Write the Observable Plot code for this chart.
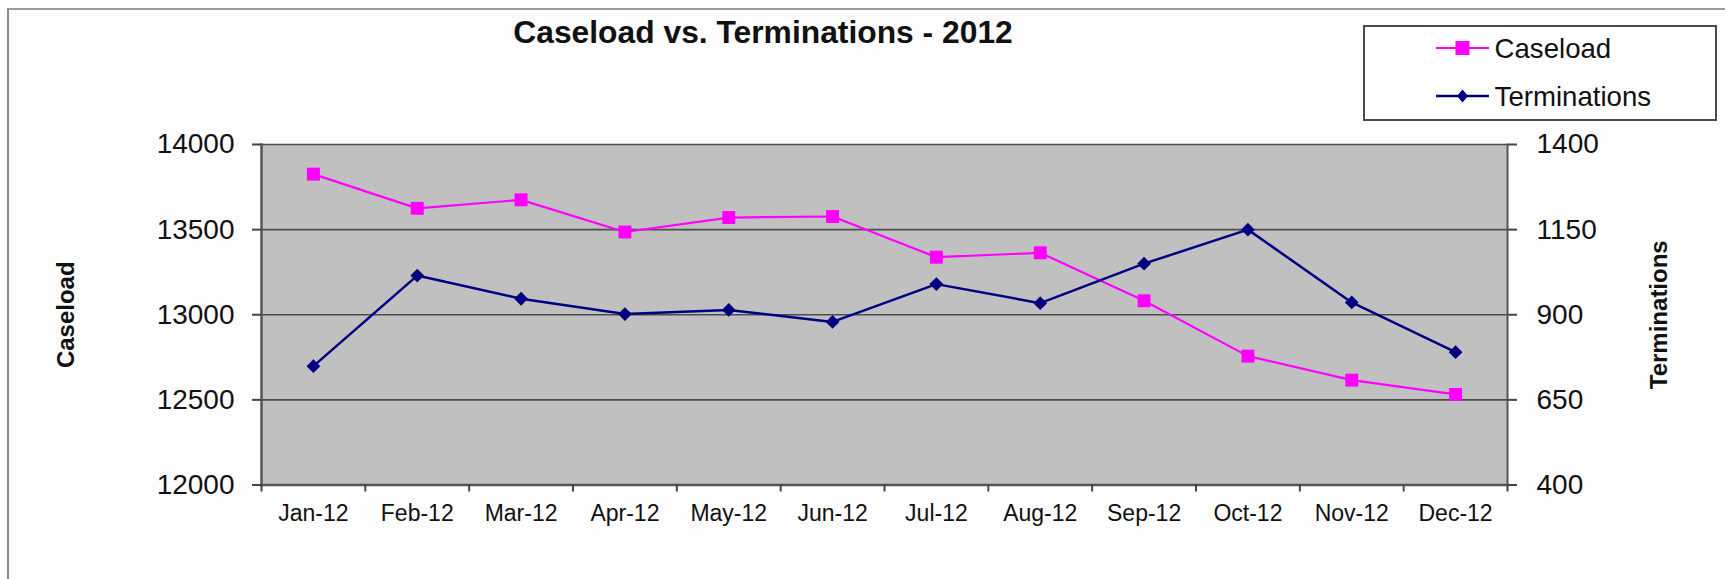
<!DOCTYPE html>
<html>
<head>
<meta charset="utf-8">
<script src="https://cdn.jsdelivr.net/npm/d3@7"></script>
<script src="https://cdn.jsdelivr.net/npm/@observablehq/plot@0.6"></script>
<style>
  html, body { margin: 0; padding: 0; background: #ffffff; }
  #wrap { position: relative; width: 1725px; height: 579px; overflow: hidden; font-family: "Liberation Sans", Arial, sans-serif; }
  #border { position: absolute; left: 7px; top: 8px; width: 1716px; height: 600px; border-left: 2px solid #8a8a8a; border-top: 2px solid #9a9a9a; border-right: 1px solid #cfcfcf; background: #fdfdfd; }
  #chart { position: absolute; left: 0; top: 0; }
  #title { position: absolute; left: 263px; width: 1000px; top: 16.5px; text-align: center; font-weight: bold; font-size: 31.8px; line-height: 31.8px; color: #111; }
  #legend { position: absolute; left: 1363px; top: 25px; width: 354px; height: 96px; box-sizing: border-box; border: 2px solid #4a4a4a; background: #fff; }
  .lg-item { position: absolute; font-size: 27.6px; line-height: 27.6px; color: #111; white-space: nowrap; }
  .lg-sw { position: absolute; }
</style>
</head>
<body>
<div id="wrap">
  <div id="border"></div>
  <div id="chart"></div>
  <div id="title"></div>
  <div id="legend"></div>
</div>
<script>
// ---- data ----
const months = ["Jan-12", "Feb-12", "Mar-12", "Apr-12", "May-12", "Jun-12", "Jul-12", "Aug-12", "Sep-12", "Oct-12", "Nov-12", "Dec-12"];
const caseload = [13826, 13625, 13675, 13486, 13571, 13577, 13338, 13364, 13082, 12757, 12616, 12532];
const terminations = [749, 1015, 947, 902, 914, 879, 990, 934, 1050, 1150, 936, 790];
const caseloadTicks = [12000, 12500, 13000, 13500, 14000];
const terminationTicks = [400, 650, 900, 1150, 1400];
const titleText = "Caseload vs. Terminations - 2012";
const seriesNames = ["Caseload", "Terminations"];
const seriesColors = ["#ff00ff", "#000080"];

// map terminations onto the caseload (left) scale
const cMin = caseloadTicks[0], cMax = caseloadTicks[caseloadTicks.length - 1];
const tMin = terminationTicks[0], tMax = terminationTicks[terminationTicks.length - 1];
const tToY = t => cMin + (t - tMin) * (cMax - cMin) / (tMax - tMin);
const yToT = y => Math.round(tMin + (y - cMin) * (tMax - tMin) / (cMax - cMin));

const rows = months.map((m, i) => ({pos: i + 0.5, month: m, caseload: caseload[i], term: tToY(terminations[i])}));
const font = "'Liberation Sans', Arial, sans-serif";

const chart = Plot.plot({
  width: 1725,
  height: 579,
  marginLeft: 261,
  marginRight: 218,
  marginTop: 144,
  marginBottom: 94.5,
  style: {background: "transparent", fontFamily: font, color: "#111"},
  x: {type: "linear", domain: [0, months.length], axis: null},
  y: {domain: [cMin, cMax], axis: null},
  marks: [
    Plot.frame({fill: "#c0c0c0", stroke: null}),
    Plot.ruleY(caseloadTicks.slice(1), {stroke: "#4d4d4d", strokeWidth: 1.6}),
    Plot.frame({anchor: "left", stroke: "#555", strokeWidth: 2.5}),
    Plot.frame({anchor: "right", stroke: "#555", strokeWidth: 2}),
    Plot.frame({anchor: "bottom", stroke: "#555", strokeWidth: 2.5}),
    Plot.axisY({anchor: "left", ticks: caseloadTicks, tickFormat: d => String(d), tickSize: 9, tickPadding: 18, fontSize: 28, stroke: "#444", strokeWidth: 2, label: null}),
    Plot.axisY({anchor: "right", ticks: terminationTicks.map(tToY), tickFormat: d => String(yToT(d)), tickSize: 9, tickPadding: 20, fontSize: 28, stroke: "#444", strokeWidth: 2, label: null}),
    Plot.axisY({anchor: "left", ticks: [], label: seriesNames[0], labelAnchor: "center", labelArrow: "none", labelOffset: 205, fontSize: 24, fontWeight: "bold"}),
    Plot.axisY({anchor: "right", ticks: [], label: seriesNames[1], labelAnchor: "center", labelArrow: "none", labelOffset: 159, fontSize: 24, fontWeight: "bold"}),
    Plot.axisX({ticks: d3.range(months.length + 1), tickFormat: () => "", tickSize: 7, stroke: "#444", strokeWidth: 2, label: null}),
    Plot.axisX({ticks: rows.map(r => r.pos), tickFormat: d => months[Math.floor(d)], tickSize: 0, tickPadding: 20, fontSize: 23, label: null}),
    Plot.line(rows, {x: "pos", y: "caseload", stroke: seriesColors[0], strokeWidth: 2.2}),
    Plot.dot(rows, {x: "pos", y: "caseload", symbol: "square", r: 7.3, fill: seriesColors[0], stroke: null}),
    Plot.line(rows, {x: "pos", y: "term", stroke: seriesColors[1], strokeWidth: 2.5}),
    Plot.dot(rows, {x: "pos", y: "term", symbol: "diamond2", r: 6.2, fill: seriesColors[1], stroke: null})
  ]
});
document.getElementById("chart").appendChild(chart);
document.getElementById("title").textContent = titleText;

// legend (HTML overlay)
const legend = document.getElementById("legend");
const rowsY = [23 - 2, 71 - 2];
seriesNames.forEach((name, k) => {
  const sw = document.createElementNS("http://www.w3.org/2000/svg", "svg");
  sw.setAttribute("width", 54); sw.setAttribute("height", 20);
  sw.setAttribute("class", "lg-sw");
  sw.style.left = (1436 - 1363 - 2) + "px";
  sw.style.top = (rowsY[k] - 10) + "px";
  const line = document.createElementNS(sw.namespaceURI, "line");
  line.setAttribute("x1", 0); line.setAttribute("x2", 53); line.setAttribute("y1", 10); line.setAttribute("y2", 10);
  line.setAttribute("stroke", seriesColors[k]); line.setAttribute("stroke-width", k === 0 ? 2.2 : 2.5);
  sw.appendChild(line);
  let m;
  if (k === 0) {
    m = document.createElementNS(sw.namespaceURI, "rect");
    m.setAttribute("x", 26.5 - 7); m.setAttribute("y", 10 - 7); m.setAttribute("width", 14); m.setAttribute("height", 14);
  } else {
    m = document.createElementNS(sw.namespaceURI, "path");
    m.setAttribute("d", "M26.5,3.5 L32,10 L26.5,16.5 L21,10 Z");
  }
  m.setAttribute("fill", seriesColors[k]);
  sw.appendChild(m);
  legend.appendChild(sw);
  const t = document.createElement("div");
  t.className = "lg-item";
  t.textContent = name;
  t.style.left = (1494.6 - 1363 - 2) + "px";
  t.style.top = (rowsY[k] - 13.5) + "px";
  legend.appendChild(t);
});
</script>
</body>
</html>
